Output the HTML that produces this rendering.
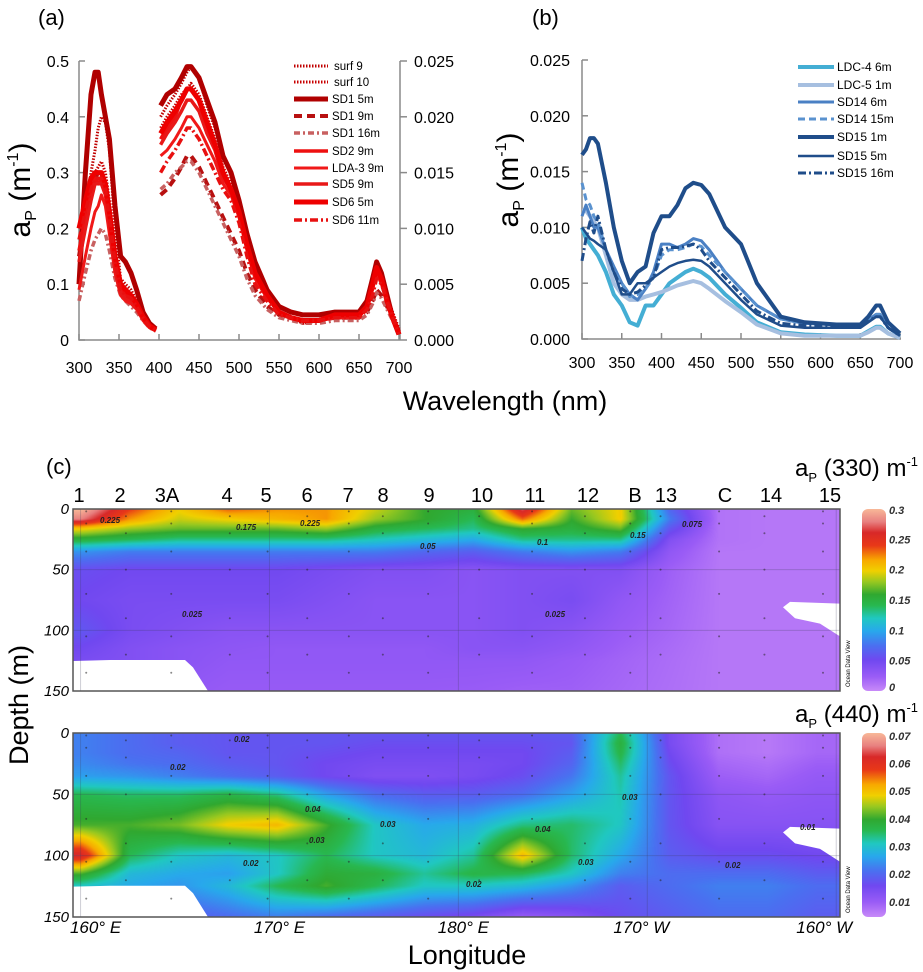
<!DOCTYPE html>
<html><head><meta charset="utf-8">
<style>
html,body{margin:0;padding:0;background:#fff;}
#wrap{position:relative;width:923px;height:972px;overflow:hidden;font-family:"Liberation Sans",sans-serif;}
canvas{position:absolute;}
svg{position:absolute;left:0;top:0;}
</style></head>
<body>
<div id="wrap">
<canvas id="hm1" width="767" height="182" style="left:73px;top:509px"></canvas>
<canvas id="hm2" width="767" height="184" style="left:73px;top:733px"></canvas>
<svg id="svg" width="923" height="972" viewBox="0 0 923 972">
<defs>
<linearGradient id="cbar" x1="0" y1="1" x2="0" y2="0">
<stop offset="0" stop-color="#c88af8"/><stop offset="0.08" stop-color="#9a5cf6"/><stop offset="0.17" stop-color="#7048f0"/><stop offset="0.25" stop-color="#4a70f0"/><stop offset="0.33" stop-color="#28a8ec"/><stop offset="0.40" stop-color="#20c8c0"/><stop offset="0.47" stop-color="#28b850"/><stop offset="0.53" stop-color="#30a830"/><stop offset="0.60" stop-color="#98c820"/><stop offset="0.66" stop-color="#f0d000"/><stop offset="0.72" stop-color="#f8a800"/><stop offset="0.80" stop-color="#e83818"/><stop offset="0.87" stop-color="#d82828"/><stop offset="0.93" stop-color="#e88080"/><stop offset="1" stop-color="#f8b898"/>
</linearGradient>
</defs>
<text x="38" y="25" font-size="22">(a)</text>
<text x="532" y="25" font-size="22">(b)</text>
<text x="46" y="474" font-size="22">(c)</text>
<text x="505" y="410" font-size="27" text-anchor="middle">Wavelength (nm)</text>
<g transform="translate(30,190) rotate(-90)"><text font-size="30" text-anchor="middle">a<tspan font-size="16" dy="6">P</tspan><tspan dy="-6"> (m</tspan><tspan font-size="16" dy="-12">-1</tspan><tspan dy="12">)</tspan></text></g>
<g transform="translate(518,180) rotate(-90)"><text font-size="30" text-anchor="middle">a<tspan font-size="16" dy="6">P</tspan><tspan dy="-6"> (m</tspan><tspan font-size="16" dy="-12">-1</tspan><tspan dy="12">)</tspan></text></g>
<g id="gA"></g>
<g id="gB"></g>
<g id="gC"></g>
</svg>
</div>
<script>
// ---------- Panel (a) data ----------
const wlA1 = [300,308,315,320,324,328,333,338,345,352,358,365,372,380,388,396];
const wlA2 = [402,410,420,428,435,440,450,460,470,480,490,500,510,520,535,550,565,580,600,620,640,650,660,667,672,678,685,692,700];
const namesA = ["surf 9","surf 10","SD1 5m","SD1 9m","SD1 16m","SD2 9m","LDA-3 9m","SD5 9m","SD6 5m","SD6 11m"];
const sA1_surf9 = [0.12,0.22,0.30,0.34,0.38,0.40,0.39,0.34,0.20,0.11,0.10,0.09,0.07,0.04,0.025,0.018];
const sA1_surf10 = [0.20,0.24,0.28,0.30,0.31,0.32,0.30,0.25,0.16,0.10,0.09,0.08,0.06,0.04,0.025,0.018];
const sA1_sd1_5 = [0.10,0.30,0.44,0.48,0.48,0.44,0.40,0.36,0.24,0.15,0.14,0.12,0.09,0.05,0.03,0.02];
const sA1_sd1_9 = [0.15,0.22,0.27,0.29,0.30,0.30,0.28,0.22,0.14,0.09,0.08,0.07,0.06,0.04,0.025,0.018];
const sA1_sd1_16 = [0.07,0.12,0.16,0.18,0.19,0.20,0.19,0.16,0.11,0.08,0.07,0.06,0.05,0.035,0.022,0.016];
const sA1_sd2_9 = [0.16,0.22,0.27,0.29,0.28,0.29,0.27,0.22,0.14,0.09,0.08,0.075,0.06,0.04,0.025,0.018];
const sA1_lda3 = [0.09,0.15,0.20,0.23,0.24,0.26,0.24,0.19,0.12,0.08,0.07,0.065,0.055,0.035,0.022,0.016];
const sA1_sd5_9 = [0.14,0.20,0.25,0.28,0.28,0.28,0.26,0.21,0.13,0.085,0.075,0.07,0.058,0.038,0.024,0.017];
const sA1_sd6_5 = [0.20,0.25,0.29,0.30,0.30,0.30,0.28,0.23,0.15,0.10,0.09,0.08,0.065,0.042,0.026,0.018];
const sA1_sd6_11 = [0.18,0.23,0.27,0.29,0.29,0.29,0.27,0.22,0.14,0.09,0.08,0.075,0.06,0.04,0.025,0.018];
const sA2_surf9 = [0.40,0.42,0.44,0.46,0.48,0.49,0.47,0.42,0.38,0.33,0.30,0.25,0.18,0.13,0.08,0.05,0.04,0.03,0.035,0.045,0.045,0.045,0.065,0.10,0.14,0.12,0.08,0.04,0.01];
const sA2_surf10 = [0.38,0.40,0.42,0.44,0.45,0.46,0.44,0.40,0.36,0.31,0.28,0.24,0.17,0.12,0.08,0.05,0.04,0.03,0.035,0.04,0.045,0.045,0.06,0.09,0.13,0.11,0.08,0.05,0.02];
const sA2_sd1_5 = [0.42,0.44,0.45,0.47,0.49,0.49,0.47,0.43,0.39,0.33,0.30,0.25,0.19,0.14,0.09,0.06,0.05,0.045,0.045,0.05,0.05,0.05,0.07,0.11,0.14,0.12,0.08,0.04,0.01];
const sA2_sd1_9 = [0.26,0.27,0.29,0.31,0.33,0.33,0.31,0.28,0.25,0.22,0.19,0.16,0.12,0.09,0.06,0.045,0.04,0.035,0.035,0.04,0.04,0.04,0.05,0.07,0.09,0.08,0.06,0.04,0.015];
const sA2_sd1_16 = [0.27,0.28,0.30,0.31,0.32,0.32,0.30,0.27,0.24,0.21,0.18,0.15,0.11,0.08,0.055,0.04,0.035,0.03,0.03,0.035,0.035,0.035,0.045,0.065,0.085,0.075,0.055,0.035,0.012];
const sA2_sd2_9 = [0.36,0.38,0.40,0.43,0.45,0.45,0.43,0.39,0.35,0.30,0.27,0.23,0.17,0.12,0.08,0.05,0.04,0.035,0.035,0.045,0.045,0.045,0.06,0.10,0.13,0.11,0.07,0.04,0.01];
const sA2_lda3 = [0.33,0.34,0.36,0.38,0.40,0.40,0.38,0.35,0.32,0.28,0.26,0.22,0.16,0.11,0.075,0.05,0.04,0.035,0.035,0.04,0.04,0.04,0.06,0.09,0.12,0.10,0.07,0.04,0.01];
const sA2_sd5_9 = [0.35,0.37,0.39,0.41,0.43,0.43,0.41,0.37,0.34,0.29,0.27,0.23,0.17,0.12,0.08,0.05,0.04,0.035,0.035,0.04,0.045,0.045,0.06,0.10,0.13,0.11,0.07,0.04,0.01];
const sA2_sd6_5 = [0.37,0.39,0.41,0.43,0.45,0.45,0.43,0.39,0.35,0.30,0.27,0.23,0.17,0.12,0.08,0.05,0.04,0.035,0.035,0.045,0.045,0.045,0.06,0.10,0.13,0.11,0.07,0.04,0.01];
const sA2_sd6_11 = [0.30,0.32,0.34,0.36,0.38,0.38,0.36,0.33,0.30,0.27,0.25,0.21,0.15,0.10,0.07,0.045,0.04,0.035,0.035,0.04,0.04,0.04,0.055,0.08,0.11,0.10,0.07,0.04,0.01];
const ticksAx = [300,350,400,450,500,550,600,650,700];
const ticksAyL = ["0","0.1","0.2","0.3","0.4","0.5"];
const ticksAyR = ["0.000","0.005","0.010","0.015","0.020","0.025"];

// ---------- Panel (b) data ----------
const wlB = [300,305,310,315,320,330,340,350,360,370,380,390,400,410,420,430,440,450,460,480,500,520,550,580,620,650,660,670,675,685,700];
const namesB = ["LDC-4 6m","LDC-5  1m","SD14 6m","SD14 15m","SD15 1m","SD15 5m","SD15 16m"];
const sB_ldc4 = [.010,.009,.0085,.008,.0075,.006,.004,.003,.0015,.0012,.003,.003,.004,.005,.0055,.006,.0063,.006,.0055,.004,.0028,.0015,.0006,.0004,.0003,.0003,.0007,.0011,.0011,.0005,.0001];
const sB_ldc5 = [.0115,.0115,.011,.0105,.010,.0075,.005,.004,.0035,.0035,.0038,.004,.0042,.0045,.0048,.005,.0052,.005,.0045,.0034,.0024,.0013,.0005,.0003,.0003,.0003,.0006,.001,.001,.0005,.0001];
const sB_sd14_6 = [.011,.012,.011,.010,.010,.008,.0065,.005,.004,.0035,.0045,.006,.0085,.0085,.0082,.0085,.009,.0088,.008,.006,.0045,.003,.0018,.0014,.0013,.0013,.0017,.0022,.0022,.001,.0003];
const sB_sd14_15 = [.014,.0125,.012,.011,.0105,.008,.006,.005,.0038,.004,.0045,.0055,.0075,.008,.008,.0082,.0085,.0083,.0075,.006,.0045,.003,.0018,.0014,.0013,.0013,.0017,.0022,.0022,.001,.0003];
const sB_sd15_1 = [.0165,.017,.018,.018,.0175,.014,.010,.007,.005,.006,.0065,.0095,.011,.011,.012,.0135,.014,.0138,.013,.010,.0085,.005,.002,.0015,.0013,.0013,.002,.003,.003,.0015,.0005];
const sB_sd15_5 = [.010,.0095,.009,.0088,.0085,.008,.006,.004,.004,.005,.005,.0055,.006,.0065,.0068,.007,.0071,.007,.0065,.005,.0035,.0022,.0012,.001,.001,.001,.0015,.002,.002,.001,.0003];
const sB_sd15_16 = [.007,.009,.0105,.0095,.011,.008,.006,.0045,.004,.0042,.0048,.0055,.008,.0082,.0082,.0083,.0085,.008,.007,.0055,.004,.0025,.0014,.0012,.0012,.0012,.0016,.002,.002,.001,.0003];
const ticksBy = ["0.000","0.005","0.010","0.015","0.020","0.025"];

// ---------- Panel (c) data ----------
const stations = ["1","2","3A","4","5","6","7","8","9","10","11","12","B","13","C","14","15"];
const stationLon = [160.3,162.4,164.8,167.9,169.9,172.0,174.2,176.0,178.4,181.1,183.9,186.7,189.1,190.7,193.8,196.2,199.3];
const lonTicks = ["160° E","170° E","180° E","170° W","160° W"];
const lonTickVals = [160,170,180,190,200];
const depthTicks = [0,50,100,150];
const gridLon = [160,162.6,165.2,167.8,170.4,173,175.6,178.2,180.8,183.4,186,188.6,191.2,193.8,196.4,199];
const gridDepth = [0,8,16,25,35,50,75,100,115,125,150];
const ap330 = [
[.30,.24,.20,.23,.22,.22,.19,.16,.15,.27,.17,.20,.07,.012,.01,.01],
[.28,.22,.19,.20,.21,.22,.18,.16,.14,.23,.16,.20,.08,.012,.01,.01],
[.20,.18,.17,.17,.17,.18,.15,.14,.13,.16,.15,.17,.06,.012,.01,.01],
[.15,.14,.13,.13,.13,.13,.12,.11,.10,.13,.13,.13,.04,.012,.01,.01],
[.09,.08,.08,.08,.08,.08,.08,.07,.065,.08,.09,.08,.03,.01,.01,.01],
[.055,.05,.05,.05,.05,.045,.04,.04,.035,.04,.04,.04,.022,.01,.01,.01],
[.05,.045,.045,.045,.045,.04,.035,.035,.035,.04,.045,.03,.02,.01,.01,.01],
[.06,.045,.04,.035,.035,.035,.035,.035,.035,.04,.035,.025,.018,.01,.01,.01],
[.05,.04,.035,.032,.03,.03,.03,.03,.035,.035,.03,.022,.016,.01,.01,.01],
[.045,.04,.035,.03,.03,.03,.03,.03,.03,.03,.025,.02,.015,.01,.01,.01],
[.04,.035,.03,.026,.026,.026,.026,.026,.025,.022,.022,.018,.014,.01,.01,.01]];
const ap440 = [
[.022,.02,.018,.017,.017,.017,.017,.017,.017,.017,.018,.035,.014,.007,.006,.008],
[.022,.02,.018,.017,.017,.017,.016,.016,.016,.016,.017,.037,.014,.007,.006,.008],
[.022,.02,.019,.017,.017,.016,.015,.015,.015,.015,.018,.036,.015,.007,.006,.008],
[.023,.021,.02,.018,.017,.015,.014,.014,.014,.015,.019,.034,.016,.008,.007,.009],
[.025,.024,.022,.02,.018,.015,.013,.013,.014,.016,.021,.032,.017,.009,.008,.01],
[.035,.034,.034,.036,.033,.025,.02,.018,.018,.02,.025,.031,.017,.011,.01,.011],
[.04,.04,.042,.048,.05,.04,.03,.026,.027,.033,.034,.03,.017,.012,.012,.012],
[.062,.035,.03,.028,.03,.035,.03,.028,.032,.05,.034,.026,.018,.016,.016,.015],
[.04,.028,.026,.025,.03,.038,.037,.032,.036,.035,.03,.022,.02,.02,.02,.018],
[.03,.026,.024,.028,.035,.04,.035,.03,.03,.028,.024,.018,.02,.022,.022,.02],
[.02,.02,.018,.02,.022,.02,.018,.016,.014,.01,.012,.016,.018,.02,.02,.018]];
const sampleDepths = [2,6,12,20,35,50,70,90,105,120,135];

// ---------- helpers ----------
const NS = "http://www.w3.org/2000/svg";
function mk(tag, parent){ const e = document.createElementNS(NS, tag); parent.appendChild(e); return e; }
function xA(w){ return 79 + (w-300)/400*320; }
function yA(v){ return 340 - v/0.5*279; }
function xB(w){ return 582 + (w-300)/400*318; }
function yB(v){ return 339 - v/0.025*279; }
function pathD(xs, ys, fx, fy){ return xs.map((w,i)=>(i?"L":"M")+fx(w).toFixed(1)+","+fy(ys[i]).toFixed(1)).join(""); }

// ---------- Panel (a) ----------
const gA = document.getElementById("gA");
const stylesA = [
 {c:"#c00000",w:3,d:"1.5,1.5"},{c:"#c80000",w:3,d:"1.5,1.5"},{c:"#b00000",w:5,d:""},{c:"#b81010",w:4,d:"8,5"},
 {c:"#c86060",w:3.5,d:"6,3,2,3"},{c:"#ee1010",w:3.5,d:""},{c:"#f01818",w:3,d:""},{c:"#e81818",w:3.5,d:""},{c:"#ee0000",w:5,d:""},{c:"#e81010",w:3.5,d:"8,3,2,3"}];
const seriesA1 = [sA1_surf9,sA1_surf10,sA1_sd1_5,sA1_sd1_9,sA1_sd1_16,sA1_sd2_9,sA1_lda3,sA1_sd5_9,sA1_sd6_5,sA1_sd6_11];
const seriesA2 = [sA2_surf9,sA2_surf10,sA2_sd1_5,sA2_sd1_9,sA2_sd1_16,sA2_sd2_9,sA2_lda3,sA2_sd5_9,sA2_sd6_5,sA2_sd6_11];
let ax = mk("path", gA);


ax.setAttribute("d","M79,61V340H400M400,61V340");
ax.setAttribute("stroke","#8a8a8a"); ax.setAttribute("stroke-width","1.5"); ax.setAttribute("fill","none");
ticksAx.forEach(t=>{
  const l = mk("line", gA);
  
  
  l.setAttribute("x1",xA(t)); l.setAttribute("x2",xA(t)); l.setAttribute("y1",340); l.setAttribute("y2",334);
  l.setAttribute("stroke","#8a8a8a"); l.setAttribute("stroke-width","1.5");
  const tx = mk("text", gA);
  
  
  tx.setAttribute("x",xA(t)); tx.setAttribute("y",373); tx.setAttribute("font-size","16"); tx.setAttribute("text-anchor","middle");
  tx.textContent = t;
});
ticksAyL.forEach((t,i)=>{
  const y = 340 - i*279/5;
  const tx = mk("text", gA);
  
  
  tx.setAttribute("x",69); tx.setAttribute("y",y+6); tx.setAttribute("font-size","16"); tx.setAttribute("text-anchor","end");
  tx.textContent = t;
  const l = mk("line", gA);
  
  
  l.setAttribute("x1",79); l.setAttribute("x2",85); l.setAttribute("y1",y); l.setAttribute("y2",y); l.setAttribute("stroke","#8a8a8a"); l.setAttribute("stroke-width","1.5");
  const tr = mk("text", gA);
  
  
  tr.setAttribute("x",414); tr.setAttribute("y",y+6); tr.setAttribute("font-size","16");
  tr.textContent = ticksAyR[i];
  const l2 = mk("line", gA);
  
  
  l2.setAttribute("x1",400); l2.setAttribute("x2",407); l2.setAttribute("y1",y); l2.setAttribute("y2",y); l2.setAttribute("stroke","#8a8a8a"); l2.setAttribute("stroke-width","1.5");
});
seriesA1.forEach((s,i)=>{
  const st = stylesA[i];
  [[wlA1,s],[wlA2,seriesA2[i]]].forEach(([xs,ys],k)=>{
    const p = mk("path", gA);
    
    
    p.setAttribute("d", pathD(xs,ys,xA,yA));
    p.setAttribute("stroke",st.c); p.setAttribute("stroke-width",st.w); p.setAttribute("fill","none");
    p.setAttribute("stroke-linejoin","round");
    if(st.d) p.setAttribute("stroke-dasharray",st.d);
  });
  const ly = [66,82,99,116,133,151,168,184,202,220][i];
  const ll = mk("line", gA);
  
  
  ll.setAttribute("x1",294); ll.setAttribute("x2",328); ll.setAttribute("y1",ly); ll.setAttribute("y2",ly);
  ll.setAttribute("stroke",st.c); ll.setAttribute("stroke-width",st.w); if(st.d) ll.setAttribute("stroke-dasharray",st.d);
  const lt = mk("text", gA);
  
  
  lt.setAttribute("x",i<2?334:332); lt.setAttribute("y",ly+4); lt.setAttribute("font-size","11.5");
  lt.textContent = namesA[i];
});

// ---------- Panel (b) ----------
const gB = document.getElementById("gB");
const stylesB = [{c:"#44aed4",w:4,d:""},{c:"#a6bfe0",w:4,d:""},{c:"#4a80c4",w:3,d:""},{c:"#5a92cf",w:3,d:"7,4"},{c:"#1f4d8a",w:4,d:""},{c:"#1f4d8a",w:2.5,d:""},{c:"#1f4d8a",w:3,d:"8,3,2,3"}];
const seriesB = [sB_ldc4,sB_ldc5,sB_sd14_6,sB_sd14_15,sB_sd15_1,sB_sd15_5,sB_sd15_16];
let bx = mk("path", gB);


bx.setAttribute("d","M582,60V339H901");
bx.setAttribute("stroke","#8a8a8a"); bx.setAttribute("stroke-width","1.5"); bx.setAttribute("fill","none");
ticksAx.forEach(t=>{
  const l = mk("line", gB);
  
  
  l.setAttribute("x1",xB(t)); l.setAttribute("x2",xB(t)); l.setAttribute("y1",339); l.setAttribute("y2",333);
  l.setAttribute("stroke","#8a8a8a"); l.setAttribute("stroke-width","1.5");
  const tx = mk("text", gB);
  
  
  tx.setAttribute("x",xB(t)); tx.setAttribute("y",368); tx.setAttribute("font-size","16"); tx.setAttribute("text-anchor","middle");
  tx.textContent = t;
});
ticksBy.forEach((t,i)=>{
  const y = 339 - i*279/5;
  const tx = mk("text", gB);
  
  
  tx.setAttribute("x",570); tx.setAttribute("y",y+6); tx.setAttribute("font-size","16"); tx.setAttribute("text-anchor","end");
  tx.textContent = t;
  const l = mk("line", gB);
  
  
  l.setAttribute("x1",582); l.setAttribute("x2",588); l.setAttribute("y1",y); l.setAttribute("y2",y); l.setAttribute("stroke","#8a8a8a"); l.setAttribute("stroke-width","1.5");
});
seriesB.forEach((s,i)=>{
  const st = stylesB[i];
  const p = mk("path", gB);
  
  
  p.setAttribute("d", pathD(wlB,s,xB,yB));
  p.setAttribute("stroke",st.c); p.setAttribute("stroke-width",st.w); p.setAttribute("fill","none");
  p.setAttribute("stroke-linejoin","round");
  if(st.d) p.setAttribute("stroke-dasharray",st.d);
  const ly = [67,85,102,119,137,156,173][i];
  const ll = mk("line", gB);
  
  
  ll.setAttribute("x1",798); ll.setAttribute("x2",834); ll.setAttribute("y1",ly); ll.setAttribute("y2",ly);
  ll.setAttribute("stroke",st.c); ll.setAttribute("stroke-width",st.w); if(st.d) ll.setAttribute("stroke-dasharray",st.d);
  const lt = mk("text", gB);
  
  
  lt.setAttribute("x",837); lt.setAttribute("y",ly+4); lt.setAttribute("font-size","12");
  lt.textContent = namesB[i];
});

// ---------- Panel (c) heatmaps ----------
const stops = [[0,"#c88af8"],[0.08,"#9a5cf6"],[0.17,"#7048f0"],[0.25,"#4a70f0"],[0.33,"#28a8ec"],[0.40,"#20c8c0"],[0.47,"#28b850"],[0.53,"#30a830"],[0.60,"#98c820"],[0.66,"#f0d000"],[0.72,"#f8a800"],[0.80,"#e83818"],[0.87,"#d82828"],[0.93,"#e88080"],[1,"#f8b898"]].map(([t,c])=>[t,parseInt(c.slice(1,3),16),parseInt(c.slice(3,5),16),parseInt(c.slice(5,7),16)]);
function cmap(t){
  t = Math.max(0,Math.min(1,t));
  for(let i=1;i<stops.length;i++){ if(t<=stops[i][0]){ const a=stops[i-1],b=stops[i]; const f=(t-a[0])/(b[0]-a[0]); return [a[1]+(b[1]-a[1])*f,a[2]+(b[2]-a[2])*f,a[3]+(b[3]-a[3])*f]; } }
  return stops[stops.length-1].slice(1);
}
const LON0=159.6, LON1=200.2;
function lonX(l){ return 73 + (l-LON0)/(LON1-LON0)*767; }
function interp(arr, xs, v){
  if(v<=xs[0]) return [0,0]; if(v>=xs[xs.length-1]) return [xs.length-2,1];
  for(let i=0;i<xs.length-1;i++) if(v<=xs[i+1]) return [i,(v-xs[i])/(xs[i+1]-xs[i])];
}
function drawHeat(id, grid, vmin, vmax){
  const cv = document.getElementById(id); const ctx = cv.getContext("2d");
  const W=cv.width,H=cv.height; const img = ctx.createImageData(W,H);
  for(let py=0;py<H;py++){
    const dep = py/(H-1)*150; const [ri,rf] = interp(null,gridDepth,dep);
    for(let px=0;px<W;px++){
      const lon = LON0 + px/(W-1)*(LON1-LON0); const [ci,cf] = interp(null,gridLon,lon);
      const v = (grid[ri][ci]*(1-cf)+grid[ri][ci+1]*cf)*(1-rf) + (grid[ri+1][ci]*(1-cf)+grid[ri+1][ci+1]*cf)*rf;
      const c = cmap((v-vmin)/(vmax-vmin)); const k=(py*W+px)*4;
      img.data[k]=c[0]; img.data[k+1]=c[1]; img.data[k+2]=c[2]; img.data[k+3]=255;
    }
  }
  ctx.putImageData(img,0,0);
}
drawHeat("hm1", ap330, 0, 0.3);
drawHeat("hm2", ap440, 0.004, 0.07);

const gC = document.getElementById("gC");
function panelOverlay(top, h, idx, bar){
  const dy = d => top + d/150*h;
  const m1 = mk("path", gC);
  
  
  m1.setAttribute("d",`M73,${top+h*0.835}L110,${top+h*0.83}L185,${top+h*0.83}L193,${top+h*0.87}L208,${top+h}L73,${top+h}Z`);
  m1.setAttribute("fill","#fff");
  const m2 = mk("path", gC);
  
  
  m2.setAttribute("d",`M840,${top+h*0.52}L790,${top+h*0.51}L783,${top+h*0.54}L795,${top+h*0.6}L820,${top+h*0.63}L840,${top+h*0.7}Z`);
  m2.setAttribute("fill","#fff");
  lonTickVals.forEach(l=>{
    const g = mk("line", gC);
    
    
    g.setAttribute("x1",lonX(l)); g.setAttribute("x2",lonX(l)); g.setAttribute("y1",top); g.setAttribute("y2",top+h);
    g.setAttribute("stroke","rgba(60,60,90,0.25)"); g.setAttribute("stroke-width","1");
  });
  [50,100].forEach(d=>{
    const g = mk("line", gC);
    
    
    g.setAttribute("x1",73); g.setAttribute("x2",840); g.setAttribute("y1",dy(d)); g.setAttribute("y2",dy(d));
    g.setAttribute("stroke","rgba(60,60,90,0.25)"); g.setAttribute("stroke-width","1");
  });
  stationLon.forEach((l,si)=>{
    sampleDepths.forEach((d,di)=>{
      if((si+di)%2) return;
      const c = mk("circle", gC);
      
      
      c.setAttribute("cx",lonX(l)); c.setAttribute("cy",dy(d)); c.setAttribute("r",1);
      c.setAttribute("fill","rgba(40,40,40,0.55)");
    });
  });
  const fr = mk("rect", gC);
  
  
  fr.setAttribute("x",73); fr.setAttribute("y",top); fr.setAttribute("width",767); fr.setAttribute("height",h);
  fr.setAttribute("fill","none"); fr.setAttribute("stroke","#555"); fr.setAttribute("stroke-width","1.5");
  depthTicks.forEach(d=>{
    const t = mk("text", gC);
    
    
    t.setAttribute("x",69); t.setAttribute("y",dy(d)+5); t.setAttribute("font-size","15"); t.setAttribute("font-style","italic"); t.setAttribute("text-anchor","end");
    t.textContent = d;
  });
  const odv = mk("text", gC);
  
  
  odv.setAttribute("transform",`translate(850,${top+h-4}) rotate(-90)`); odv.setAttribute("font-size","6");
  odv.textContent = "Ocean Data View";
  const cb = mk("rect", gC);
  
  
  cb.setAttribute("x",862); cb.setAttribute("y",top); cb.setAttribute("width",24); cb.setAttribute("height",h); cb.setAttribute("rx",6);
  cb.setAttribute("fill","url(#cbar)");
  bar.labels.forEach((lab,i)=>{
    const t = mk("text", gC);
    
    
    const y = top + h - (bar.vals[i]-bar.min)/(bar.max-bar.min)*h;
    t.setAttribute("x",889); t.setAttribute("y",Math.max(top+5,Math.min(top+h,y+4))); t.setAttribute("font-size","11"); t.setAttribute("font-style","italic"); t.setAttribute("font-weight","bold"); t.setAttribute("fill","#333");
    t.textContent = lab;
  });
}
panelOverlay(509,182,1,{labels:["0.3","0.25","0.2","0.15","0.1","0.05","0"],vals:[0.3,0.25,0.2,0.15,0.1,0.05,0],min:0,max:0.3});
panelOverlay(733,184,2,{labels:["0.07","0.06","0.05","0.04","0.03","0.02","0.01"],vals:[0.07,0.06,0.05,0.04,0.03,0.02,0.01],min:0.0045,max:0.071});

const stX = [79,120,167,227,266,307,348,383,429,482,535,588,635,666,725,771,830];
stations.forEach((s,i)=>{
  const t = mk("text", gC);
  
  
  t.setAttribute("x",stX[i]); t.setAttribute("y",502); t.setAttribute("font-size","20"); t.setAttribute("text-anchor","middle");
  t.textContent = s;
});
lonTickVals.forEach((l,i)=>{
  const t = mk("text", gC);
  
  
  t.setAttribute("x",lonX(l)+([15,10,5,-6,-12][i])); t.setAttribute("y",933); t.setAttribute("font-size","17"); t.setAttribute("font-style","italic"); t.setAttribute("text-anchor","middle");
  t.textContent = lonTicks[i];
});
[[100,523,"0.225"],[300,526,"0.225"],[236,530,"0.175"],[420,549,"0.05"],[537,545,"0.1"],[630,538,"0.15"],[182,617,"0.025"],[545,617,"0.025"],[682,527,"0.075"],
 [234,742,"0.02"],[170,770,"0.02"],[305,812,"0.04"],[380,827,"0.03"],[309,843,"0.03"],[243,866,"0.02"],[535,832,"0.04"],[622,800,"0.03"],[578,865,"0.03"],[466,887,"0.02"],[725,868,"0.02"],[800,830,"0.01"]].forEach(([x,y,s])=>{
  const t = mk("text", gC);
  
  
  t.setAttribute("x",x); t.setAttribute("y",y); t.setAttribute("font-size","8"); t.setAttribute("font-style","italic"); t.setAttribute("font-weight","bold"); t.setAttribute("fill","#222");
  t.textContent = s;
});
function apTitle(y, wl, nm){
  const t = mk("text", gC);
  
  
  t.setAttribute("x",918); t.setAttribute("y",y); t.setAttribute("font-size","24"); t.setAttribute("text-anchor","end");
  t.innerHTML = 'a<tspan font-size="13" dy="6">P</tspan><tspan dy="-6"> ('+wl+') m</tspan><tspan font-size="13" dy="-10">-1</tspan>';
}
apTitle(476,"330","colorbar-title-330");
apTitle(722,"440","colorbar-title-440");
const dt = mk("text", gC);


dt.setAttribute("transform","translate(28,705) rotate(-90)"); dt.setAttribute("font-size","27"); dt.setAttribute("text-anchor","middle");
dt.textContent = "Depth (m)";
const lt = mk("text", gC);


lt.setAttribute("x",467); lt.setAttribute("y",964); lt.setAttribute("font-size","27"); lt.setAttribute("text-anchor","middle");
lt.textContent = "Longitude";
</script>
</body></html>
